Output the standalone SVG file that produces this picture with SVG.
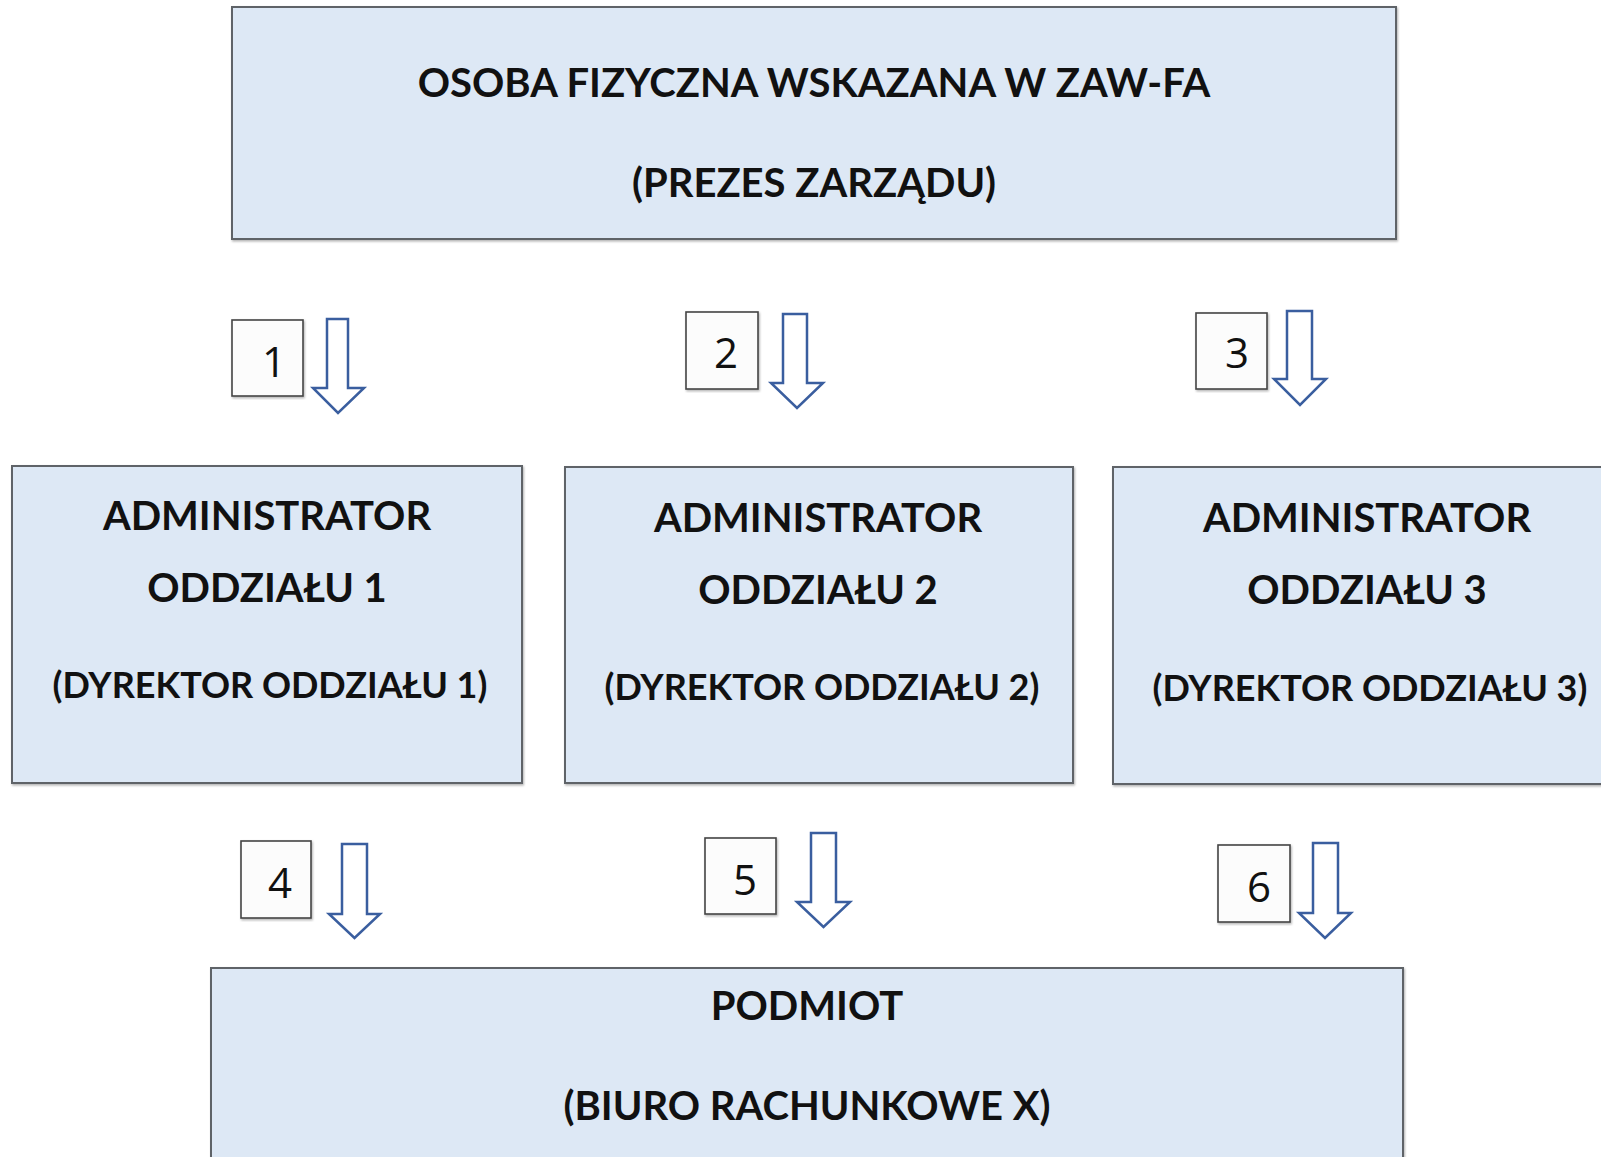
<svg xmlns="http://www.w3.org/2000/svg" width="1601" height="1157" viewBox="0 0 1601 1157">
<defs>
<filter id="sh" x="-5%" y="-5%" width="110%" height="110%">
<feDropShadow dx="1" dy="1.5" stdDeviation="1" flood-color="#000" flood-opacity="0.3"/>
</filter>
</defs>
<style>
.node rect{fill:#dde8f5;stroke:#5f6368;stroke-width:2;filter:url(#sh)}
.t{font-family:Lato,"Liberation Sans",sans-serif;font-weight:bold;font-size:40px;fill:#111;text-anchor:middle}
.s{font-size:36px}
.num rect{fill:#fcfcfc;stroke:#444;stroke-width:1.6;filter:url(#sh)}
.num text{font-family:"Open Sans","Noto Sans",sans-serif;font-size:42px;fill:#111;text-anchor:middle}
.arr{fill:#fff;stroke:#3a5e9f;stroke-width:2.5;stroke-linejoin:miter}
</style>
<rect width="1601" height="1157" fill="#fff"/>
<g id="n-top" class="node">
<rect x="232" y="7" width="1164" height="232"/>
<text class="t" x="814" y="97">OSOBA FIZYCZNA WSKAZANA W ZAW-FA</text>
<text class="t" x="814" y="197">(PREZES ZARZĄDU)</text>
</g>
<g id="n-admin1" class="node">
<rect x="12" y="466" width="510" height="317"/>
<text class="t" x="267" y="530">ADMINISTRATOR</text>
<text class="t" x="267" y="602">ODDZIAŁU 1</text>
<text class="t s" x="270" y="698">(DYREKTOR ODDZIAŁU 1)</text>
</g>
<g id="n-admin2" class="node">
<rect x="565" y="467" width="508" height="316"/>
<text class="t" x="818" y="532">ADMINISTRATOR</text>
<text class="t" x="818" y="604">ODDZIAŁU 2</text>
<text class="t s" x="822" y="700">(DYREKTOR ODDZIAŁU 2)</text>
</g>
<g id="n-admin3" class="node">
<rect x="1113" y="467" width="508" height="317"/>
<text class="t" x="1367" y="532">ADMINISTRATOR</text>
<text class="t" x="1367" y="604">ODDZIAŁU 3</text>
<text class="t s" x="1370" y="701">(DYREKTOR ODDZIAŁU 3)</text>
</g>
<g id="n-bottom" class="node">
<rect x="211" y="968" width="1192" height="200"/>
<text class="t" x="807" y="1020">PODMIOT</text>
<text class="t" x="807" y="1120">(BIURO RACHUNKOWE X)</text>
</g>
<g id="connectors">
<g id="c1">
<path class="arr" d="M327,319 H348 V388 H364 L338,413 L313,388 H327 Z"/>
<g class="num"><rect x="232" y="320" width="71" height="76"/><text x="274" y="377">1</text></g>
</g>
<g id="c2">
<path class="arr" d="M783,314 H807 V383 H823 L797,408 L771,383 H783 Z"/>
<g class="num"><rect x="686" y="312" width="72" height="77"/><text x="726" y="368">2</text></g>
</g>
<g id="c3">
<path class="arr" d="M1287,311 H1312 V379 H1326 L1300,405 L1274,379 H1287 Z"/>
<g class="num"><rect x="1196" y="313" width="71" height="76"/><text x="1237" y="368">3</text></g>
</g>
<g id="c4">
<path class="arr" d="M342,844 H367 V914 H380 L354.5,938 L329,914 H342 Z"/>
<g class="num"><rect x="241" y="841" width="70" height="77"/><text x="280" y="898">4</text></g>
</g>
<g id="c5">
<path class="arr" d="M811,833 H836 V902 H850 L823.5,927 L797,902 H811 Z"/>
<g class="num"><rect x="705" y="838" width="71" height="76"/><text x="745" y="895">5</text></g>
</g>
<g id="c6">
<path class="arr" d="M1313,843 H1338 V913 H1351 L1325,938 L1299,913 H1313 Z"/>
<g class="num"><rect x="1218" y="845" width="72" height="77"/><text x="1259" y="902">6</text></g>
</g>
</g>
</svg>
